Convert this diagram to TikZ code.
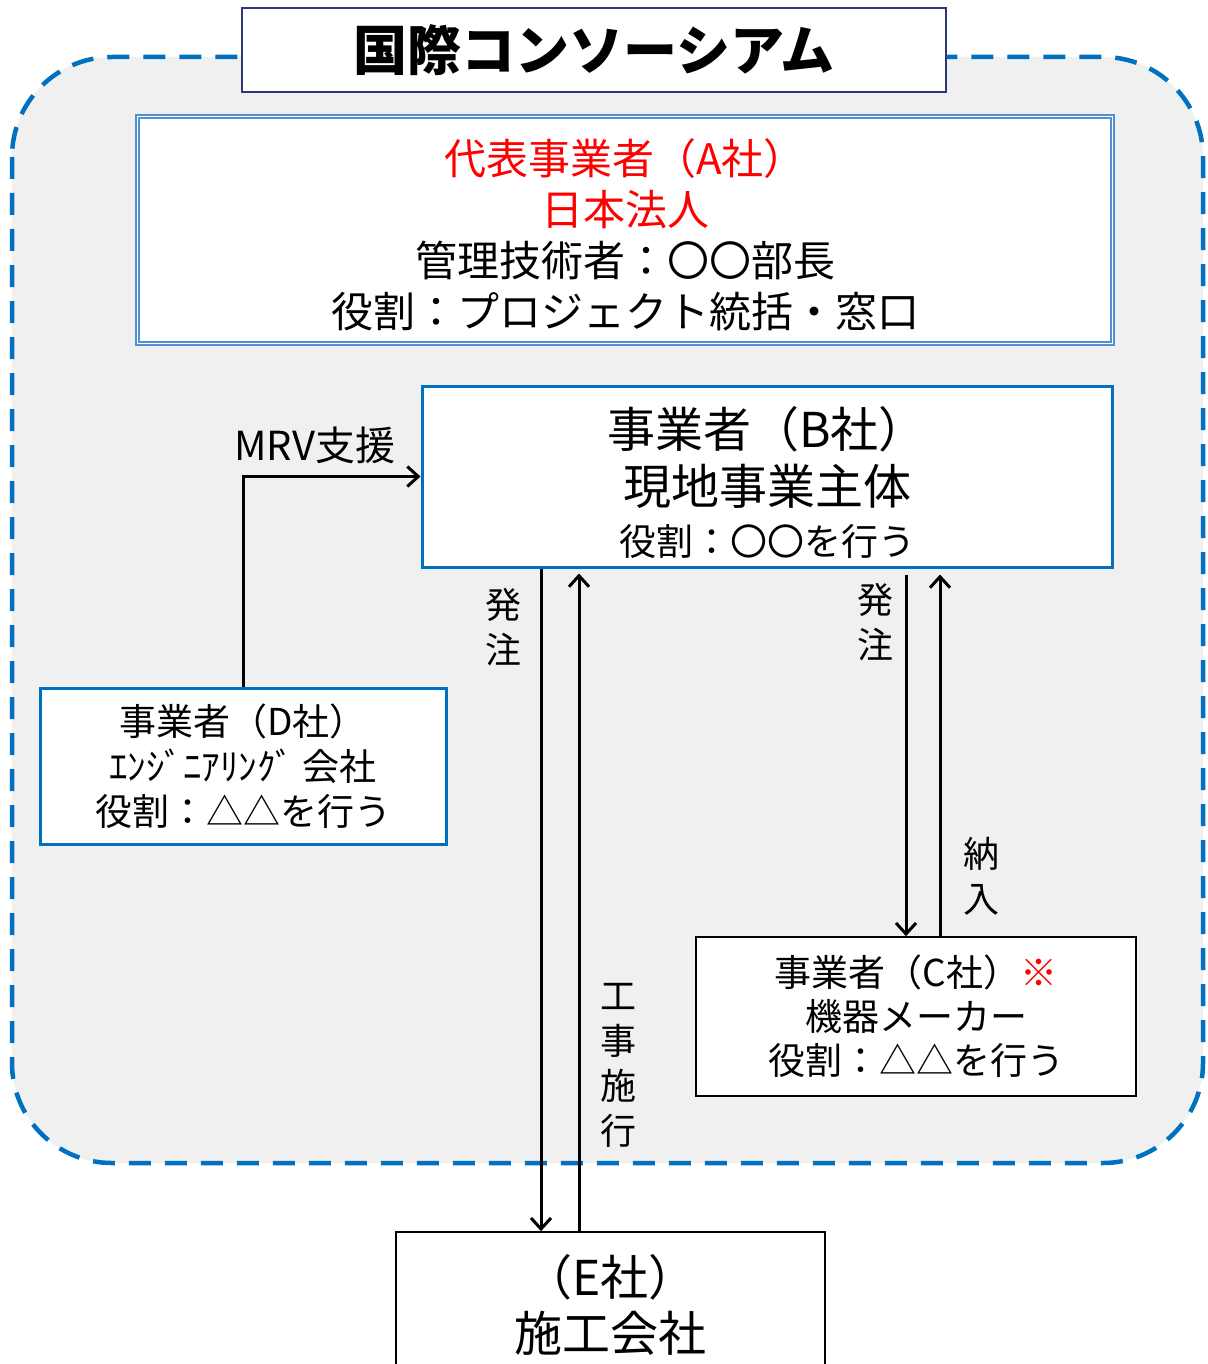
\documentclass[tikz,border=0pt]{standalone}
\usepackage{fontspec}
\setmainfont{Noto Sans CJK JP}
\usetikzlibrary{arrows.meta}
\definecolor{mblue}{RGB}{0,112,192}
\definecolor{lblue}{RGB}{80,145,210}
\definecolor{bggray}{RGB}{240,240,240}
\definecolor{navy}{RGB}{47,54,120}
\definecolor{mred}{RGB}{255,0,0}
\tikzset{
  boxbase/.style={rectangle, fill=white, inner sep=0pt, align=center, text=black},
  blubox/.style={boxbase, draw=mblue, line width=3pt},
  blkbox/.style={boxbase, draw=black, line width=1.6pt},
  arr/.style={draw=black, line width=3pt, -{Straight Barb[length=11pt,width=20pt,line width=3pt]}},
  lbl/.style={inner sep=0pt, align=center, font=\fontsize{36}{45}\selectfont},
}
\begin{document}
\begin{tikzpicture}[x=1pt,y=-1pt]
\useasboundingbox (0,0) rectangle (1207,1364);
\clip (0,0) rectangle (1207,1364);
% consortium area
\draw[fill=bggray, draw=mblue, line width=4.5pt, dash pattern=on 22pt off 14pt, rounded corners=100pt]
  (12,57) rectangle (1203,1163);
% title
\node[boxbase, draw=navy, line width=1.5pt, minimum width=704pt, minimum height=84pt,
      font=\fontsize{54}{60}\selectfont\bfseries] (title) at (594,50) {国際コンソーシアム};
% A
\node[boxbase, draw=lblue, line width=1.5pt, double=white, double distance=1.2pt,
      minimum width=975pt, minimum height=227pt, font=\fontsize{42}{51}\selectfont] (A) at (625,230)
  {\rule{0pt}{45pt}\textcolor{mred}{代表事業者（A社）}\\\textcolor{mred}{日本法人}\\管理技術者：〇〇部長\\役割：プロジェクト統括・窓口};
% B
\node[blubox, minimum width=690pt, minimum height=181pt, font=\fontsize{48}{57}\selectfont] (B) at (767,476.5)
  {\rule{0pt}{54pt}事業者（B社）\\現地事業主体\\[-6pt]{\fontsize{37}{45}\selectfont 役割：〇〇を行う}};
% D
\node[blubox, minimum width=406pt, minimum height=156pt, font=\fontsize{37}{45}\selectfont] (D) at (243,766)
  {事業者（D社）\\ｴﾝｼﾞﾆｱﾘﾝｸﾞ 会社\\役割：△△を行う};
% C
\node[blkbox, minimum width=440pt, minimum height=159pt, font=\fontsize{37}{44}\selectfont] (C) at (916,1016.5)
  {事業者（C社）\textcolor{mred}{※}\\機器メーカー\\役割：△△を行う};
% E
\node[blkbox, minimum width=429pt, minimum height=146pt, font=\fontsize{48}{56}\selectfont] (E) at (610.5,1305)
  {（E社）\\施工会社};
% connectors
\coordinate (xL) at (541,0);
\coordinate (xLu) at (579,0);
\coordinate (xR) at (906,0);
\coordinate (xRu) at (940,0);
\draw[arr] (D.north) |- (B.west);
\draw[arr] (xL |- B.south) -- (xL |- E.north);
\draw[arr, shorten >=5pt] (xLu |- E.north) -- (xLu |- B.south);
\draw[arr, shorten <=6pt] (xR |- B.south) -- (xR |- C.north);
\draw[arr, shorten >=6pt] (xRu |- C.north) -- (xRu |- B.south);
% labels
\node[lbl, font=\fontsize{40}{45}\selectfont] (mrv) at (315,445) {MRV支援};
\node[lbl] (ord1) at (503,627) {発\\注};
\node[lbl] (ord2) at (875,622) {発\\注};
\node[lbl] (deliv) at (981,876) {納\\入};
\node[lbl] (work) at (618,1065) {工\\事\\施\\行};
\end{tikzpicture}
\end{document}
